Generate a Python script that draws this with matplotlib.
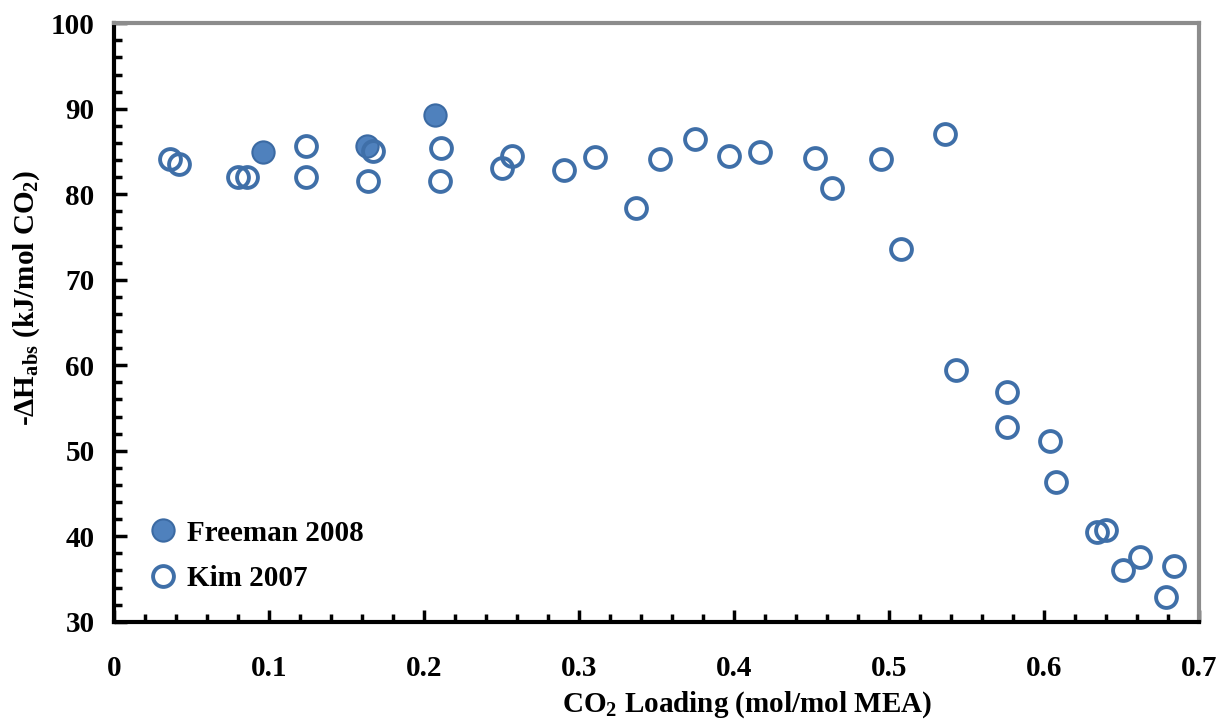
import numpy as np
import matplotlib
matplotlib.use("Agg")
import matplotlib.pyplot as plt
from matplotlib.ticker import MultipleLocator

# Freeman 2008 (filled)
freeman_x = [0.096, 0.163, 0.207]
freeman_y = [84.9, 85.6, 89.3]

# Kim 2007 (open)
kim_x = [0.036, 0.042, 0.080, 0.086, 0.124, 0.124, 0.167, 0.164, 0.211, 0.210,
         0.250, 0.257, 0.290, 0.310, 0.337, 0.352, 0.375, 0.397, 0.417, 0.452,
         0.463, 0.495, 0.536, 0.508, 0.543, 0.576, 0.576, 0.604, 0.608, 0.634,
         0.640, 0.662, 0.651, 0.684, 0.679]
kim_y = [84.1, 83.5, 82.0, 82.0, 85.6, 82.0, 85.1, 81.6, 85.4, 81.6,
         83.1, 84.5, 82.8, 84.4, 78.4, 84.1, 86.5, 84.5, 84.9, 84.2,
         80.7, 84.1, 87.0, 73.6, 59.4, 56.9, 52.8, 51.1, 46.3, 40.5,
         40.7, 37.6, 36.1, 36.5, 32.9]

x_ticklabels = ["0", "0.1", "0.2", "0.3", "0.4", "0.5", "0.6", "0.7"]

plt.rcParams["font.family"] = ["Liberation Serif", "DejaVu Serif"]
plt.rcParams["mathtext.fontset"] = "custom"
plt.rcParams["mathtext.rm"] = "Liberation Serif"
plt.rcParams["mathtext.bf"] = "Liberation Serif:bold"
plt.rcParams["mathtext.it"] = "Liberation Serif:italic"

fig = plt.figure(figsize=(12.25, 7.23), dpi=100)
ax = fig.add_axes([0.0931, 0.140, 0.8857, 0.8278])

ax.plot(freeman_x, freeman_y, "o", ms=16, mfc="#4f81bd", mec="#3b6aa3",
        mew=1.5, label="Freeman 2008", zorder=3)
ax.plot(kim_x, kim_y, "o", ms=15, mfc="none", mec="#3f6fa8",
        mew=2.8, label="Kim 2007", zorder=3)

ax.set_xlim(0, 0.7)
ax.set_ylim(30, 100)
ax.set_xticks(np.arange(0, 0.71, 0.1))
ax.set_xticklabels(x_ticklabels)
ax.xaxis.set_minor_locator(MultipleLocator(0.02))
ax.yaxis.set_major_locator(MultipleLocator(10))
ax.yaxis.set_minor_locator(MultipleLocator(2))

ax.tick_params(which="major", direction="in", length=9, width=2.5,
               labelsize=21, top=False, right=False, pad=14)
ax.tick_params(which="minor", direction="in", length=6, width=2.5,
               top=False, right=False)
ax.tick_params(axis="x", which="major", pad=24)
for lab in ax.get_xticklabels() + ax.get_yticklabels():
    lab.set_fontweight("bold")

for side in ["left", "bottom"]:
    ax.spines[side].set_linewidth(3)
    ax.spines[side].set_color("black")
for side in ["top", "right"]:
    ax.spines[side].set_linewidth(3)
    ax.spines[side].set_color("#8c8c8c")

fig.text(0.022, 0.588, r"-$\mathbf{\Delta}$H$_{\mathbf{abs}}$ (kJ/mol CO$_{\mathbf{2}}$)",
         rotation=90, ha="center", va="center", fontsize=21, fontweight="bold")
fig.text(0.61, 0.026, r"CO$_{\mathbf{2}}$ Loading (mol/mol MEA)",
         ha="center", va="center", fontsize=21, fontweight="bold")

ax.legend(loc="lower left", bbox_to_anchor=(0.005, 0.016), frameon=False,
          handletextpad=0.0, labelspacing=0.62, borderaxespad=0.3,
          handlelength=1.6, prop={"weight": "bold", "size": 21})

fig.savefig("out.png", dpi=100)
